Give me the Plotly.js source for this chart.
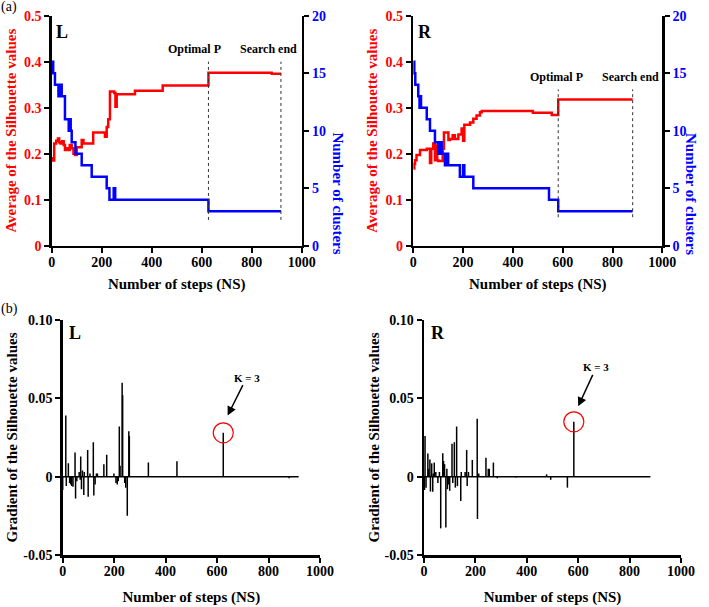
<!DOCTYPE html>
<html>
<head>
<meta charset="utf-8">
<script src="https://cdn.plot.ly/plotly-3.0.1.min.js"></script>
<style>html,body{margin:0;padding:0;background:#fff;}#chart{width:709px;height:607px;}</style>
</head>
<body>
<div id="chart"></div>
<script>
// ---------- DATA ----------
// Panel (a) L : average silhouette (left axis) and number of clusters (right axis)
const silStepsL = [0, 5, 10, 18, 25, 30, 35, 42, 48, 53, 60, 66, 72, 80, 87, 93, 100, 120, 127, 166, 213, 220, 226, 233, 250, 255, 260, 333, 444, 627, 880, 917];
const silL      = [0.19, 0.185, 0.222, 0.228, 0.233, 0.225, 0.222, 0.227, 0.219, 0.208, 0.212, 0.208, 0.219, 0.212, 0.2, 0.197, 0.214, 0.23, 0.222, 0.246, 0.237, 0.258, 0.275, 0.335, 0.332, 0.302, 0.329, 0.337, 0.348, 0.376, 0.374, 0.374];
const kStepsL   = [0, 6, 13, 27, 29, 31, 33, 35, 37, 40, 53, 68, 70, 72, 74, 76, 80, 95, 120, 160, 220, 231, 248, 250, 252, 254, 256, 627, 917];
const kL        = [16, 15, 14, 13, 14, 13, 14, 13, 14, 13, 11, 10, 11, 10, 11, 10, 9, 8, 7, 6, 5, 4, 5, 4, 5, 4, 4, 3, 3];
// Panel (a) R
const silStepsR = [0, 4, 7, 13, 27, 54, 67, 72, 76, 80, 87, 92, 96, 100, 107, 118, 123, 127, 141, 147, 158, 167, 181, 194, 200, 205, 228, 241, 254, 268, 275, 480, 556, 582, 881];
const silR      = [0.168, 0.178, 0.186, 0.197, 0.208, 0.211, 0.18, 0.211, 0.211, 0.222, 0.186, 0.218, 0.186, 0.184, 0.184, 0.211, 0.246, 0.246, 0.23, 0.232, 0.24, 0.232, 0.242, 0.255, 0.228, 0.263, 0.268, 0.276, 0.283, 0.29, 0.293, 0.289, 0.284, 0.318, 0.318];
const kStepsR   = [0, 4, 8, 20, 25, 28, 31, 34, 54, 67, 87, 100, 104, 108, 112, 114, 127, 134, 140, 187, 200, 205, 241, 545, 582, 881];
const kR        = [16, 15, 14, 13, 12, 13, 12, 12, 11, 10, 9, 8, 9, 8, 9, 8, 7, 8, 7, 6, 7, 6, 5, 4, 3, 3];
// optimal P and search end (NS)
const optimalL = 627, searchEndL = 917;
const optimalR = 582, searchEndR = 881;

// Panel (b) gradients
const gradXL = [0, 12, 14, 22, 27, 31, 35, 40, 48, 50, 55, 64, 68, 70, 73, 77, 82, 84, 97, 99, 106, 119, 121, 126, 131, 135, 160, 171, 199, 207, 212, 216, 220, 223, 231, 233, 241, 245, 251, 257, 259, 333, 444, 624, 880];
const gradYL = [-0.0085, 0.039, -0.006, 0.0085, -0.004, -0.005, -0.006, -0.0064, 0.0155, -0.014, -0.003, 0.003, -0.002, 0.0128, -0.008, 0.004, -0.0117, 0.003, 0.017, -0.0128, 0.002, 0.022, -0.012, -0.005, 0.002, 0.002, 0.008, 0.014, 0.002, -0.004, -0.005, -0.003, 0.032, 0.007, 0.06, 0.052, -0.004, -0.007, -0.025, 0.029, 0.026, 0.009, 0.0098, 0.028, -0.001];
const gradXR = [2, 4, 8, 15, 18, 23, 25, 30, 34, 36, 40, 46, 54, 60, 65, 73, 76, 80, 85, 89, 91, 95, 100, 109, 112, 118, 122, 127, 130, 143, 145, 160, 166, 168, 173, 188, 207, 208, 213, 241, 250, 254, 270, 285, 358, 477, 493, 558, 583];
const gradYR = [-0.0085, 0.026, -0.007, 0.0148, 0.005, 0.011, -0.0095, 0.0085, -0.0096, 0.002, 0.009, 0.003, -0.004, 0.003, -0.033, 0.015, 0.01, 0.008, -0.0325, 0.005, -0.008, -0.005, -0.009, 0.021, -0.004, 0.022, -0.007, 0.032, -0.006, -0.0155, 0.003, 0.003, 0.017, -0.006, 0.003, 0.0107, 0.037, -0.027, 0.002, 0.012, 0.005, 0.005, 0.009, -0.001, -0.0005, 0.0015, -0.002, -0.007, 0.035];
const kPeakL = {x: 624, y: 0.028};
const kPeakR = {x: 583, y: 0.035};

const xTicks = [0, 200, 400, 600, 800, 1000];
const silTicks = [0, 0.1, 0.2, 0.3, 0.4, 0.5];
const kTicks = [0, 5, 10, 15, 20];
const gradTicks = [-0.05, 0, 0.05, 0.10];
const gradTickText = ['-0.05', '0', '0.05', '0.10'];

// ---------- BUILD ----------
const W = 709, H = 607;
const RED = '#ff0000', BLUE = '#0000ff';
const FONT = "'Liberation Serif', 'Times New Roman', serif";
const fx = (a, b) => [a / W, b / W];
const fy = (top, bottom) => [(H - bottom) / H, (H - top) / H];

function stems(xs, ys) {
  const X = [], Y = [];
  xs.forEach((x, i) => { X.push(x, x, null); Y.push(0, ys[i], null); });
  return {X, Y};
}
const sL = stems(gradXL, gradYL), sR = stems(gradXR, gradYR);

const traces = [
  {x: silStepsL, y: silL, xaxis: 'x', yaxis: 'y', mode: 'lines', line: {color: RED, width: 2.5, shape: 'hv'}},
  {x: kStepsL, y: kL, xaxis: 'x', yaxis: 'y2', mode: 'lines', line: {color: BLUE, width: 2.5, shape: 'hv'}},
  {x: silStepsR, y: silR, xaxis: 'x2', yaxis: 'y3', mode: 'lines', line: {color: RED, width: 2.5, shape: 'hv'}},
  {x: kStepsR, y: kR, xaxis: 'x2', yaxis: 'y4', mode: 'lines', line: {color: BLUE, width: 2.5, shape: 'hv'}},
  {x: [0, searchEndL], y: [0, 0], xaxis: 'x3', yaxis: 'y5', mode: 'lines', line: {color: '#000', width: 1.5}},
  {x: sL.X, y: sL.Y, xaxis: 'x3', yaxis: 'y5', mode: 'lines', line: {color: '#000', width: 1.5}, connectgaps: false},
  {x: [0, searchEndR], y: [0, 0], xaxis: 'x4', yaxis: 'y6', mode: 'lines', line: {color: '#000', width: 1.5}},
  {x: sR.X, y: sR.Y, xaxis: 'x4', yaxis: 'y6', mode: 'lines', line: {color: '#000', width: 1.5}, connectgaps: false}
];

const tf = (c) => ({family: FONT, size: 14, color: c, weight: 'bold'});
const titleF = (c) => ({family: FONT, size: 15, color: c, weight: 'bold'});
const base = {showgrid: false, zeroline: false, showline: true, linecolor: '#000', linewidth: 2.5,
  ticks: 'outside', ticklen: 5, tickwidth: 2, tickcolor: '#000', fixedrange: true};

function xAx(dom, anchor, standoff) {
  return Object.assign({}, base, {domain: dom, anchor: anchor, range: [0, 1000], tickvals: xTicks, ticklabelstandoff: -3,
    tickfont: tf('#000'), title: {text: 'Number of steps (NS)', font: titleF('#000'), standoff: standoff}});
}

const layout = {
  width: W, height: H, margin: {l: 0, r: 0, t: 0, b: 0}, showlegend: false,
  paper_bgcolor: '#fff', plot_bgcolor: '#fff', font: {family: FONT},
  xaxis: xAx(fx(51.7, 301.7), 'y', 10),
  yaxis: Object.assign({}, base, {domain: fy(15.7, 245.7), anchor: 'x', range: [0, 0.5], tickvals: silTicks,
    tickfont: tf(RED), title: {text: 'Average of the Silhouette values', font: titleF(RED), standoff: 4}}),
  yaxis2: Object.assign({}, base, {overlaying: 'y', side: 'right', anchor: 'x', range: [0, 20], tickvals: kTicks,
    tickfont: tf(BLUE)}),
  xaxis2: xAx(fx(413.3, 662.3), 'y3', 10),
  yaxis3: Object.assign({}, base, {domain: fy(15.7, 245.7), anchor: 'x2', range: [0, 0.5], tickvals: silTicks,
    tickfont: tf(RED), title: {text: 'Average of the Silhouette values', font: titleF(RED), standoff: 4}}),
  yaxis4: Object.assign({}, base, {overlaying: 'y3', side: 'right', anchor: 'x2', range: [0, 20], tickvals: kTicks,
    tickfont: tf(BLUE)}),
  xaxis3: xAx(fx(62.7, 320), 'y5', 13),
  yaxis5: Object.assign({}, base, {domain: fy(320, 555), anchor: 'x3', range: [-0.05, 0.10], tickvals: gradTicks,
    ticktext: gradTickText, tickfont: tf('#000'), title: {text: 'Gradient of the Silhouette values', font: titleF('#000'), standoff: 2}}),
  xaxis4: xAx(fx(424, 681), 'y6', 13),
  yaxis6: Object.assign({}, base, {domain: fy(320, 555), anchor: 'x4', range: [-0.05, 0.10], tickvals: gradTicks,
    ticktext: gradTickText, tickfont: tf('#000'), title: {text: 'Gradient of the Silhouette values', font: titleF('#000'), standoff: 2}}),
  shapes: [
    {type: 'line', xref: 'x', yref: 'y', x0: optimalL, x1: optimalL, y0: 0.056, y1: 0.40, line: {color: '#333', width: 1, dash: 'dot'}},
    {type: 'line', xref: 'x', yref: 'y', x0: searchEndL, x1: searchEndL, y0: 0.056, y1: 0.40, line: {color: '#333', width: 1, dash: 'dot'}},
    {type: 'line', xref: 'x2', yref: 'y3', x0: optimalR, x1: optimalR, y0: 0.062, y1: 0.34, line: {color: '#333', width: 1, dash: 'dot'}},
    {type: 'line', xref: 'x2', yref: 'y3', x0: searchEndR, x1: searchEndR, y0: 0.062, y1: 0.34, line: {color: '#333', width: 1, dash: 'dot'}},
    {type: 'circle', xref: 'x3', yref: 'y5', xsizemode: 'pixel', ysizemode: 'pixel', xanchor: kPeakL.x, yanchor: kPeakL.y,
      x0: -10, x1: 10, y0: -10, y1: 10, line: {color: RED, width: 1.2}},
    {type: 'circle', xref: 'x4', yref: 'y6', xsizemode: 'pixel', ysizemode: 'pixel', xanchor: kPeakR.x, yanchor: kPeakR.y,
      x0: -10, x1: 10, y0: -10, y1: 10, line: {color: RED, width: 1.2}}
  ],
  annotations: [
    {text: '(a)', xref: 'paper', yref: 'paper', x: 8.5 / W, y: (H - 7) / H, xanchor: 'center', yanchor: 'middle', showarrow: false, font: {family: FONT, size: 14, color: '#000'}},
    {text: '(b)', xref: 'paper', yref: 'paper', x: 9 / W, y: (H - 309) / H, xanchor: 'center', yanchor: 'middle', showarrow: false, font: {family: FONT, size: 14, color: '#000'}},
    {text: 'L', xref: 'x', yref: 'y', x: 42, y: 0.465, showarrow: false, font: {family: FONT, size: 18, color: '#000', weight: 'bold'}},
    {text: 'R', xref: 'x2', yref: 'y3', x: 47, y: 0.465, showarrow: false, font: {family: FONT, size: 18, color: '#000', weight: 'bold'}},
    {text: 'L', xref: 'x3', yref: 'y5', x: 48, y: 0.0915, showarrow: false, font: {family: FONT, size: 18, color: '#000', weight: 'bold'}},
    {text: 'R', xref: 'x4', yref: 'y6', x: 55, y: 0.0915, showarrow: false, font: {family: FONT, size: 18, color: '#000', weight: 'bold'}},
    {text: 'Optimal P', xref: 'x', yref: 'y', x: 573, y: 0.427, showarrow: false, font: {family: FONT, size: 12, color: '#000', weight: 'bold'}},
    {text: 'Search end', xref: 'x', yref: 'y', x: 866, y: 0.427, showarrow: false, font: {family: FONT, size: 12, color: '#000', weight: 'bold'}},
    {text: 'Optimal P', xref: 'x2', yref: 'y3', x: 576, y: 0.366, showarrow: false, font: {family: FONT, size: 12, color: '#000', weight: 'bold'}},
    {text: 'Search end', xref: 'x2', yref: 'y3', x: 873, y: 0.366, showarrow: false, font: {family: FONT, size: 12, color: '#000', weight: 'bold'}},
    {text: 'Number of clusters', xref: 'paper', yref: 'paper', x: 338.3 / W, y: (H - 130.7) / H, textangle: 90, showarrow: false,
      font: titleF(BLUE)},
    {text: 'Number of clusters', xref: 'paper', yref: 'paper', x: 701.7 / W, y: (H - 130.7) / H, textangle: 90, showarrow: false,
      font: titleF(BLUE)},
    {text: 'K = 3', xref: 'x3', yref: 'y5', x: 641, y: 0.039, ax: 19, ay: -38, showarrow: true, arrowhead: 2, arrowsize: 1.2, arrowwidth: 1.5,
      arrowcolor: '#000', font: {family: FONT, size: 11, color: '#000', weight: 'bold'}},
    {text: 'K = 3', xref: 'x4', yref: 'y6', x: 600, y: 0.0449, ax: 18, ay: -39, showarrow: true, arrowhead: 2, arrowsize: 1.2, arrowwidth: 1.5,
      arrowcolor: '#000', font: {family: FONT, size: 11, color: '#000', weight: 'bold'}}
  ]
};

Plotly.newPlot('chart', traces, layout, {displayModeBar: false, staticPlot: true});
</script>
</body>
</html>
